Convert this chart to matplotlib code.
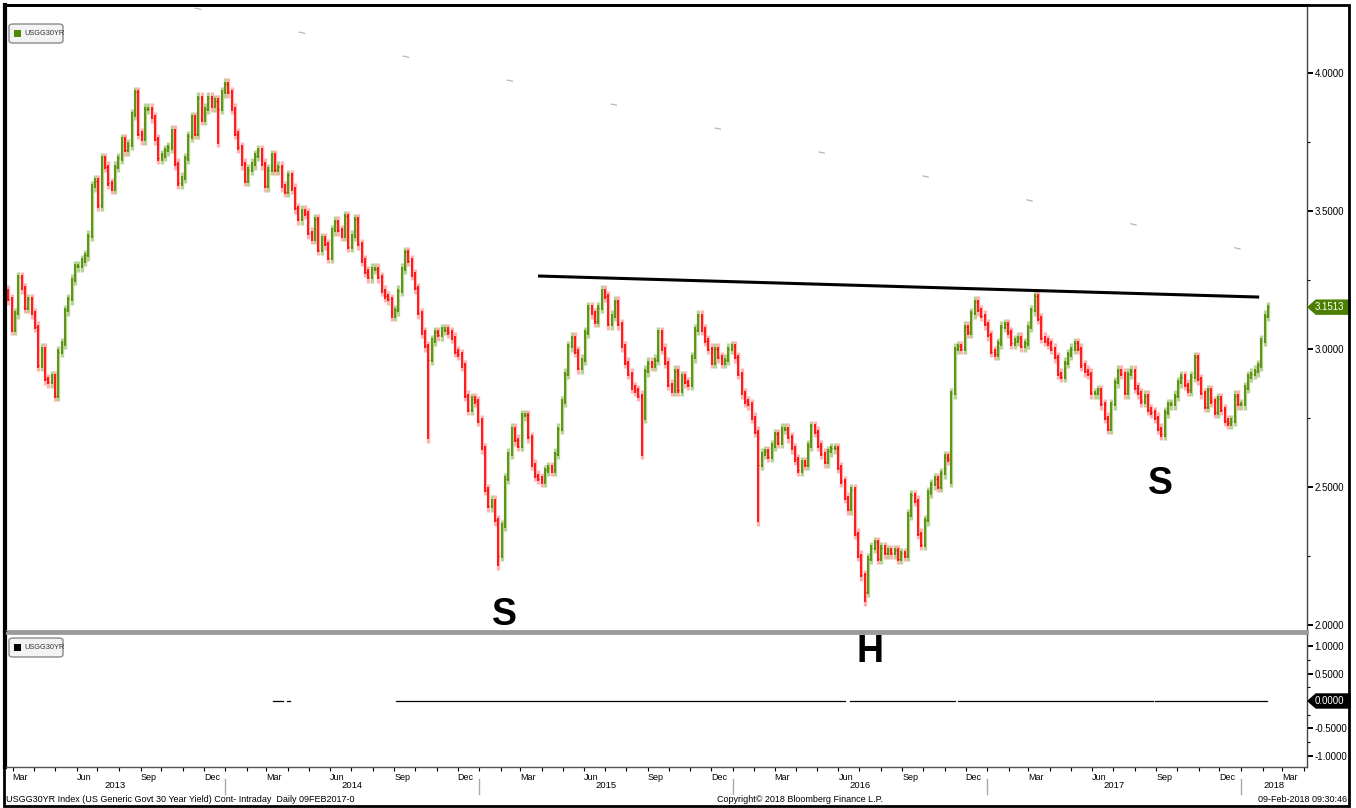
import numpy as np
import pandas as pd
import matplotlib
matplotlib.use("Agg")
import matplotlib.pyplot as plt
import matplotlib.dates as mdates
import matplotlib.transforms as mtransforms
from matplotlib.patches import Polygon, Rectangle, FancyBboxPatch
from matplotlib.lines import Line2D
from matplotlib.ticker import MultipleLocator, FormatStrFormatter, FuncFormatter

plt.rcParams['font.family'] = ['Liberation Sans', 'DejaVu Sans']
plt.rcParams['axes.unicode_minus'] = False

W, H = 1356, 808

closes = [
    3.21, 3.18, 3.07, 3.13, 3.26, 3.22, 3.15, 3.18, 3.13, 3.08,
    2.94, 3.00, 2.89, 2.88, 2.90, 2.83, 2.99, 3.02, 3.14, 3.18,
    3.25, 3.30, 3.30, 3.32, 3.34, 3.41, 3.59, 3.61, 3.52, 3.69,
    3.66, 3.60, 3.58, 3.66, 3.69, 3.76, 3.72, 3.74, 3.85, 3.93,
    3.78, 3.76, 3.87, 3.87, 3.84, 3.76, 3.69, 3.70, 3.72, 3.73,
    3.79, 3.67, 3.60, 3.62, 3.69, 3.77, 3.84, 3.78, 3.91, 3.83,
    3.87, 3.91, 3.88, 3.90, 3.87, 3.93, 3.96, 3.93, 3.87, 3.78,
    3.73, 3.67, 3.61, 3.65, 3.67, 3.70, 3.72, 3.67, 3.59, 3.65,
    3.70, 3.65, 3.66, 3.59, 3.57, 3.63, 3.58, 3.51, 3.47, 3.50,
    3.49, 3.42, 3.40, 3.47, 3.36, 3.40, 3.38, 3.33, 3.43, 3.46,
    3.43, 3.41, 3.48, 3.37, 3.41, 3.47, 3.38, 3.32, 3.28, 3.26,
    3.29, 3.29, 3.26, 3.21, 3.19, 3.18, 3.12, 3.14, 3.21, 3.29,
    3.35, 3.32, 3.27, 3.22, 3.13, 3.06, 3.01, 2.96, 3.03, 3.06,
    3.05, 3.07, 3.07, 3.06, 3.04, 2.99, 2.98, 2.94, 2.83, 2.78,
    2.82, 2.81, 2.74, 2.64, 2.49, 2.43, 2.45, 2.38, 2.25, 2.36,
    2.53, 2.62, 2.71, 2.67, 2.65, 2.76, 2.76, 2.68, 2.58, 2.54,
    2.53, 2.52, 2.56, 2.57, 2.56, 2.62, 2.71, 2.81, 2.91, 3.01,
    3.04, 2.99, 2.93, 2.96, 3.06, 3.15, 3.13, 3.10, 3.15, 3.21,
    3.19, 3.09, 3.12, 3.17, 3.09, 3.01, 2.95, 2.91, 2.86, 2.85,
    2.83, 2.75, 2.92, 2.95, 2.94, 2.96, 3.06, 3.00, 2.95, 2.87,
    2.85, 2.92, 2.85, 2.90, 2.88, 2.87, 2.97, 3.07, 3.12, 3.07,
    3.03, 3.00, 2.95, 3.00, 2.97, 2.95, 2.96, 3.00, 3.01, 2.97,
    2.91, 2.84, 2.81, 2.80, 2.75, 2.70, 2.58, 2.62, 2.63, 2.61,
    2.65, 2.69, 2.66, 2.71, 2.71, 2.68, 2.64, 2.60, 2.56, 2.59,
    2.58, 2.65, 2.72, 2.70, 2.65, 2.62, 2.59, 2.63, 2.64, 2.64,
    2.57, 2.52, 2.46, 2.42, 2.49, 2.33, 2.25, 2.18, 2.12, 2.24,
    2.28, 2.30, 2.24, 2.28, 2.26, 2.27, 2.26, 2.27, 2.24, 2.26,
    2.25, 2.40, 2.47, 2.45, 2.33, 2.29, 2.38, 2.48, 2.51, 2.53,
    2.50, 2.55, 2.61, 2.60, 2.84, 3.00, 3.01, 3.00, 3.08, 3.06,
    3.13, 3.17, 3.14, 3.12, 3.09, 3.05, 2.99, 2.98, 3.02, 3.08,
    3.09, 3.06, 3.02, 3.03, 3.04, 3.01, 3.02, 3.08, 3.14, 3.19,
    3.11, 3.04, 3.03, 3.02, 3.00, 2.97, 2.91, 2.90, 2.95, 2.98,
    3.00, 3.02, 3.00, 2.94, 2.92, 2.91, 2.84, 2.84, 2.85, 2.80,
    2.75, 2.71, 2.80, 2.88, 2.92, 2.91, 2.84, 2.91, 2.92, 2.86,
    2.84, 2.81, 2.83, 2.78, 2.77, 2.75, 2.71, 2.69, 2.77, 2.80,
    2.80, 2.83, 2.88, 2.90, 2.87, 2.85, 2.90, 2.97, 2.89, 2.84,
    2.79, 2.85, 2.81, 2.77, 2.82, 2.78, 2.74, 2.73, 2.74, 2.83,
    2.80, 2.80, 2.86, 2.90, 2.91, 2.92, 2.94, 3.03, 3.12, 3.1513,
]
first_day = '2013-02-18'
last_day = '2018-02-09'
# a few long lower tails (bar index -> low)
tails = {64: 3.75, 127: 2.68, 148: 2.22, 191: 2.62, 226: 2.38, 258: 2.09, 284: 2.52}

# neckline drawn on the chart
neck_dates = ['2015-03-29', '2018-01-25']
neck_vals = [3.264, 3.188]

# faint dotted line left over near the top of the panel
ghost_dates = ['2013-11-18', '2018-03-27']
ghost_vals = [4.235, 3.312]

# lower study: flat zero line with a few gaps
zero_segments = [
    ('2014-03-11', '2014-03-25'), ('2014-03-31', '2014-04-04'),
    ('2014-09-04', '2016-06-10'), ('2016-06-17', '2016-11-15'),
    ('2016-11-20', '2017-08-28'), ('2017-08-31', '2018-02-08'),
]

pattern_labels = [('S', '2015-02-07', 2.036, 'top'),
                  ('H', '2016-07-17', 0.896, 'low'),
                  ('S', '2017-09-07', 2.511, 'top')]

x_left, x_right = mdates.datestr2num('2013-02-18'), mdates.datestr2num('2018-04-06')

GREEN = '#4e8a00'
RED = '#ff0000'
GREEN_SOFT = '#b9d397'
RED_SOFT = '#ffb3b3'


def fy(y):
    return 1 - y / H


fig = plt.figure(figsize=(W / 100, H / 100), dpi=100)
fig.patch.set_facecolor('white')

ax = fig.add_axes([5 / W, fy(631), 1302 / W, 626 / H])
ax2 = fig.add_axes([5 / W, fy(767), 1302 / W, 134 / H], sharex=ax)

# ---- price bars (open = previous close)
dates = mdates.date2num(pd.date_range(first_day, last_day, periods=len(closes)))
c = np.array(closes)
o = np.r_[c[0], c[:-1]]
lo = np.minimum(o, c)
hi = np.maximum(o, c)
for i, v in tails.items():
    lo[i] = min(lo[i], v)
up = c >= o
cols = np.where(up, GREEN, RED)
soft = np.where(up, GREEN_SOFT, RED_SOFT)
ax.vlines(dates, lo - 0.02, hi + 0.02, colors=soft, linewidth=2.4)
ax.vlines(dates, lo - 0.008, hi + 0.008, colors=cols, linewidth=1.2)
ax.hlines(o, dates - 1.2, dates, colors=cols, linewidth=0.8)
ax.hlines(c, dates, dates + 1.2, colors=cols, linewidth=0.8)

ax.plot(mdates.datestr2num(ghost_dates), ghost_vals, color='#b0b0b0', linewidth=0.8,
        linestyle=(0, (6, 90)))
ax.plot(mdates.datestr2num(neck_dates), neck_vals, color='black', linewidth=2.2)

ax.set_xlim(x_left, x_right)
ax.set_ylim(1.978, 4.246)
ax.yaxis.tick_right()
ax.yaxis.set_major_locator(MultipleLocator(0.5))
ax.yaxis.set_minor_locator(MultipleLocator(0.25))
ax.yaxis.set_major_formatter(FormatStrFormatter('%.4f'))
ax.tick_params(axis='y', which='major', length=4, width=1.4, labelsize=7, pad=1.5, colors='black')
ax.tick_params(axis='y', which='minor', length=2.5, width=0.8)
ax.tick_params(axis='x', which='both', bottom=False, labelbottom=False)

# ---- lower study
for a, b in zero_segments:
    ax2.plot(mdates.datestr2num([a, b]), [0, 0], color='black', linewidth=0.9)
ax2.set_ylim(-1.207, 1.243)
ax2.yaxis.tick_right()
ax2.yaxis.set_major_locator(MultipleLocator(0.5))
ax2.yaxis.set_minor_locator(MultipleLocator(0.25))
ax2.yaxis.set_major_formatter(FuncFormatter(lambda v, p: '' if abs(v) < 1e-9 else f'{v:.4f}'))
ax2.tick_params(axis='y', which='major', length=4, width=1.4, labelsize=7, pad=1.5)
ax2.tick_params(axis='y', which='minor', length=2.5, width=0.8)

ax2.xaxis.set_major_locator(mdates.MonthLocator())
ax2.xaxis.set_major_formatter(FuncFormatter(
    lambda v, p: mdates.num2date(v).strftime('%b') if mdates.num2date(v).month in (3, 6, 9, 12) else ''))
ax2.tick_params(axis='x', which='major', length=3, width=0.8, labelsize=6.5, pad=1)
for lab in ax2.get_xticklabels():
    lab.set_horizontalalignment('left')

for a_ in (ax, ax2):
    a_.set_facecolor('white')
    a_.spines['left'].set_linewidth(3)
    a_.spines['left'].set_color('black')
    a_.spines['right'].set_color('#444444')
    a_.spines['right'].set_linewidth(1)
ax.spines['top'].set_linewidth(2)
ax.spines['top'].set_color('black')
ax.spines['bottom'].set_color('#9a9a9a')
ax.spines['bottom'].set_linewidth(2)
ax2.spines['top'].set_color('#9a9a9a')
ax2.spines['top'].set_linewidth(2)
ax2.spines['bottom'].set_color('#555555')
ax2.spines['bottom'].set_linewidth(1)

# year labels and separators below the month row
blend = mtransforms.blended_transform_factory(ax2.transData, fig.transFigure)
for yr in range(2013, 2019):
    a = max(mdates.datestr2num(f'{yr}-01-01'), x_left)
    b = min(mdates.datestr2num(f'{yr + 1}-01-01'), x_right)
    fig.text((a + b) / 2, fy(786), str(yr), transform=blend, ha='center', va='center', fontsize=6.8)
    if yr > 2013:
        fig.add_artist(Line2D([a, a], [fy(779), fy(794)], transform=blend, color='#aaaaaa', linewidth=1))

# pattern letters
for txt, d, v, where in pattern_labels:
    tgt = ax if where == 'top' else ax2
    tgt.text(mdates.datestr2num(d), v, txt, ha='center', va='center', fontsize=27,
             fontweight='bold', color='black', clip_on=False, zorder=10)


# value tags on the right axis
def tag(axis, value, text, face):
    yp = axis.transData.transform((x_left, value))[1]
    xp = 1308
    pts = [(xp, yp), (xp + 8, yp + 7), (1350, yp + 7), (1350, yp - 7), (xp + 8, yp - 7)]
    fig.add_artist(Polygon(pts, closed=True, transform=mtransforms.IdentityTransform(),
                           facecolor=face, edgecolor=face, zorder=5))
    fig.text(1329 / W, yp / H, text, ha='center', va='center', fontsize=7, color='white', zorder=6)


tag(ax, closes[-1], f'{closes[-1]:.4f}', '#4a7f00')
tag(ax2, 0.0, '0.0000', 'black')


# little legend boxes
def legend_box(y_top, sq_color):
    fig.add_artist(FancyBboxPatch((9 / W, fy(y_top + 19)), 54 / W, 19 / H,
                                  boxstyle='round,pad=0,rounding_size=0.003',
                                  transform=fig.transFigure, facecolor='#f3f3f3',
                                  edgecolor='#8a8a8a', linewidth=1, zorder=5))
    fig.add_artist(Rectangle((14 / W, fy(y_top + 13)), 7 / W, 7 / H, transform=fig.transFigure,
                             facecolor=sq_color, edgecolor='none', zorder=6))
    fig.text(24 / W, fy(y_top + 9.5), 'USGG30YR', fontsize=5.3, color='#333333', va='center', zorder=6)


legend_box(24, GREEN)
legend_box(638, 'black')

# footer
fig.text(6 / W, fy(800), 'USGG30YR Index (US Generic Govt 30 Year Yield) Cont- Intraday  Daily 09FEB2017-0',
         fontsize=6.5, va='center', ha='left')
fig.text(800 / W, fy(800), 'Copyright\u00a9 2018 Bloomberg Finance L.P.', fontsize=6.5, va='center', ha='center')
fig.text(1347 / W, fy(800), '09-Feb-2018 09:30:46', fontsize=6.5, va='center', ha='right')

# outer frame
fig.add_artist(Rectangle((4 / W, fy(806)), 1345 / W, 801 / H, transform=fig.transFigure,
                         fill=False, edgecolor='black', linewidth=2, zorder=20))

fig.savefig('out.png', dpi=100)
